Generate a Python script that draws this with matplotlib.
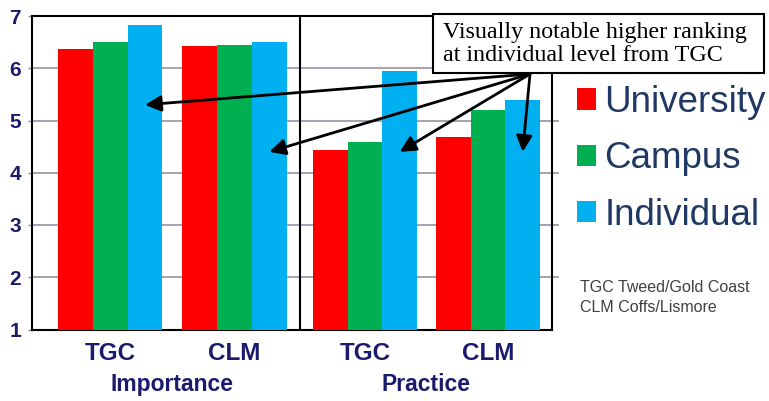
import matplotlib
matplotlib.use("Agg")
import matplotlib.pyplot as plt
from matplotlib.patches import Patch, Rectangle

# Survey ratings (scale 1-7) for importance vs. practice, by campus
sites = ["TGC", "CLM", "TGC", "CLM"]
panels = ["Importance", "Practice"]
levels = ["University", "Campus", "Individual"]
university = [6.36, 6.43, 4.44, 4.68]
campus = [6.51, 6.45, 4.58, 5.20]
individual = [6.83, 6.51, 5.95, 5.39]
yticks = [1, 2, 3, 4, 5, 6, 7]

colors = ["#FF0000", "#00B050", "#00B0F0"]
navy = "#1B1B6E"
legend_blue = "#1F3864"

fig = plt.figure(figsize=(7.69, 4.01), dpi=100)
W, H = 769, 401
ax = fig.add_axes([32 / W, 1 - 329.5 / H, 520 / W, 313.5 / H])

xpos = [0, 1, 2.05, 3.04]
bw = 0.28
series = [university, campus, individual]
for i, (vals, col) in enumerate(zip(series, colors)):
    xs = [x + (i - 1) * bw for x in xpos]
    ax.bar(xs, [v - 1 for v in vals], bottom=1, width=bw, color=col,
           edgecolor="none", zorder=3)

ax.set_xlim(-0.63, 3.556)
ax.set_ylim(1, 7)
ax.set_yticks(yticks)
ax.set_yticklabels([str(t) for t in yticks], fontsize=15, fontweight="bold",
                   color=navy, family="Liberation Sans")
ax.tick_params(axis="y", length=3, width=1, color="#8C8C9C", pad=5)
ax.tick_params(axis="x", length=0)
ax.set_xticks([])
for t in yticks[1:-1]:
    ax.axhline(t, color="#9C9CAC", lw=1.3, zorder=1)
    ax.plot([1.0, 1.012], [t, t], transform=ax.get_yaxis_transform(),
            color="#9C9CAC", lw=1.3, clip_on=False)

for sp in ax.spines.values():
    sp.set_linewidth(1.5)
    sp.set_color("black")
ax.axvline(1.527, color="black", lw=1.5, zorder=4)

# Site labels and panel labels under the axis
xt = ax.get_xaxis_transform()
for x, s in zip(xpos, sites):
    ax.text(x, -0.097, s, transform=xt, ha="center", va="baseline",
            fontsize=17.5, fontweight="bold", color=navy, family="Liberation Sans")
for p, (a, b) in zip(panels, [(xpos[0], xpos[1]), (xpos[2], xpos[3])]):
    ax.text((a + b) / 2, -0.195, p, transform=xt, ha="center", va="baseline",
            fontsize=16.5, fontweight="bold", color=navy, family="Liberation Sans")

# Legend
handles = [Patch(facecolor=c, edgecolor="none") for c in colors]
leg = fig.legend(handles, levels, loc="upper left",
                 bbox_to_anchor=(577 / W, 1 - 85 / H), frameon=False,
                 prop={"family": "Liberation Sans", "size": 26.5},
                 handlelength=0.52, handleheight=0.52, handletextpad=0.22,
                 labelspacing=0.58, borderpad=0, borderaxespad=0)
for t in leg.get_texts():
    t.set_color(legend_blue)

fig.text(580 / W, 1 - 287 / H, "TGC Tweed/Gold Coast", fontsize=11.5,
         color="#404040", va="center", ha="left", family="Liberation Sans")
fig.text(580 / W, 1 - 307 / H, "CLM Coffs/Lismore", fontsize=11.5,
         color="#404040", va="center", ha="left", family="Liberation Sans")

# Callout box with arrows toward the individual-level bars
fig.add_artist(Rectangle((433 / W, 1 - 73 / H), (764 - 433) / W, (73 - 14) / H,
                         transform=fig.transFigure, fc="white", ec="black",
                         lw=1.5, zorder=9))
fig.text(443 / W, 1 - 44 / H,
         "Visually notable higher ranking\nat individual level from TGC",
         fontsize=17.3, family="Liberation Serif", color="black",
         ha="left", va="center", linespacing=1.12, zorder=10)

start = ((530 - 32) / 520, (329.5 - 74) / 313.5)
targets = [(xpos[0] + bw, 5.3), (xpos[1] + bw, 4.4),
           (xpos[2] + bw, 4.4), (xpos[3] + bw, 4.4)]
for tx, ty in targets:
    ax.annotate("", xy=(tx, ty), xycoords="data", xytext=start,
                textcoords="axes fraction", zorder=6,
                arrowprops=dict(arrowstyle="-|>", color="black", lw=2,
                                mutation_scale=24, shrinkA=0, shrinkB=0))

fig.savefig("out.png", dpi=100, facecolor="white")
